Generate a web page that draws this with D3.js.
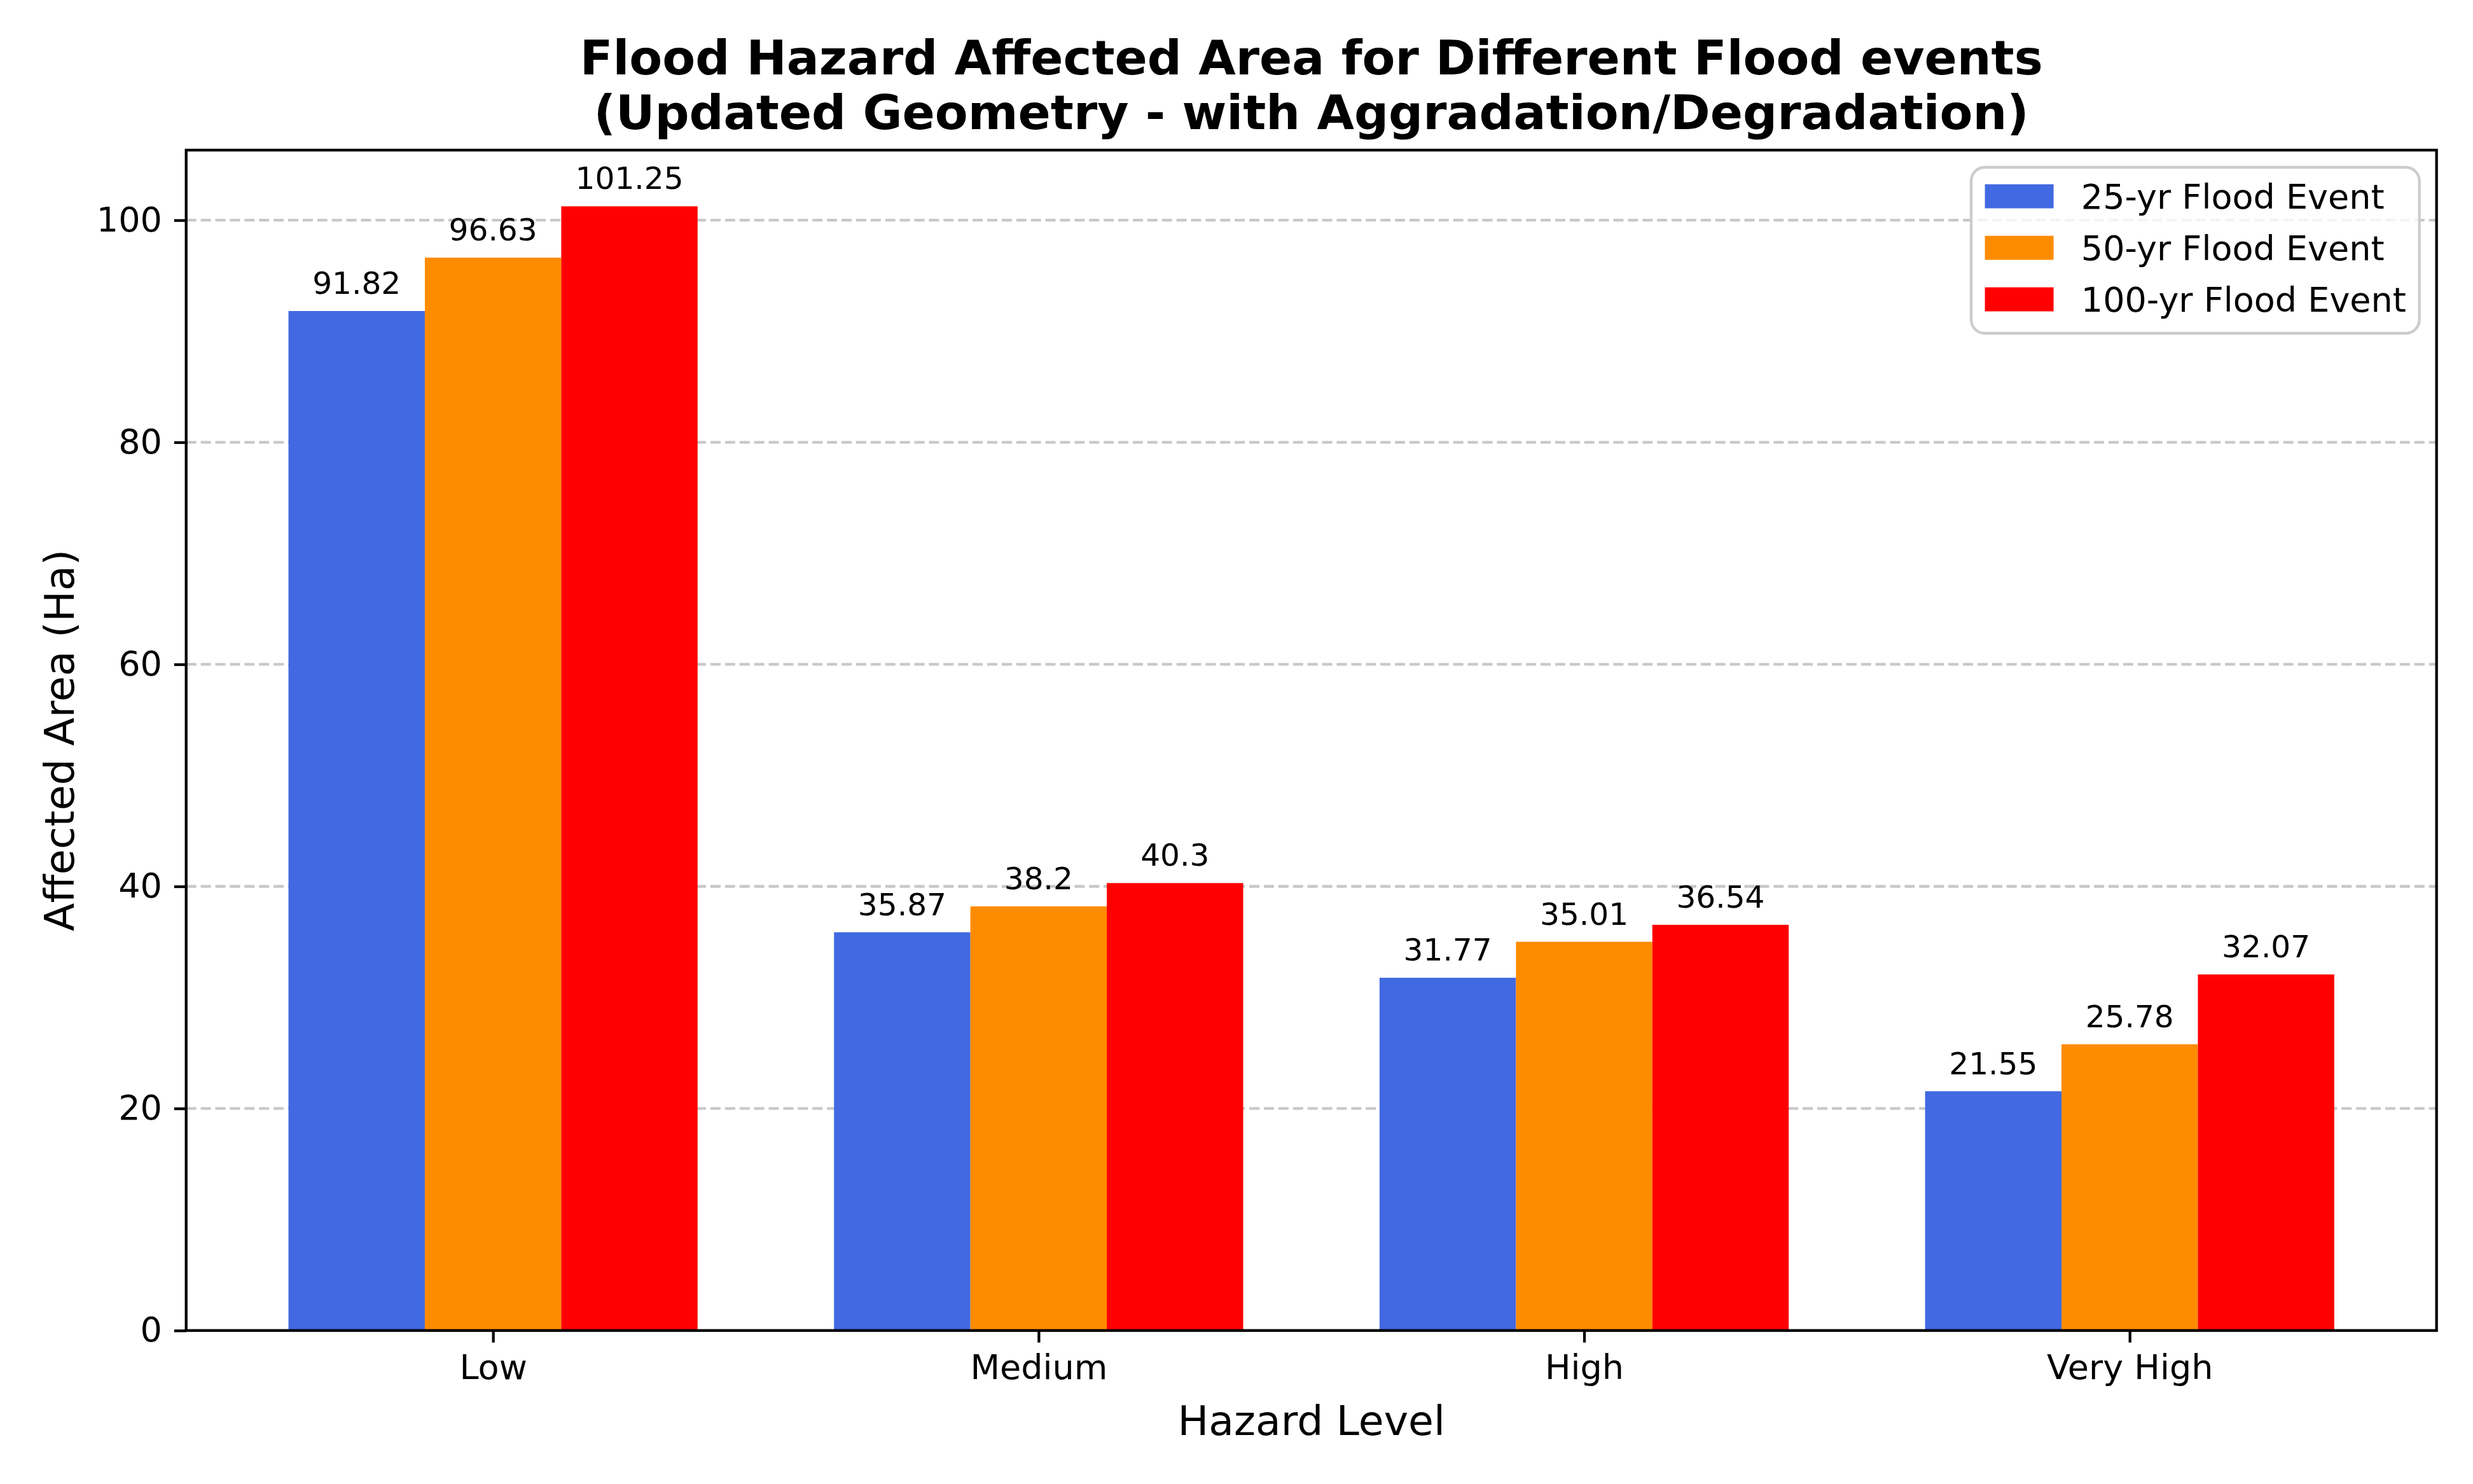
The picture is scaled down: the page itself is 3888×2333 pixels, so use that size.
<!DOCTYPE html>
<html>
<head>
<meta charset="utf-8">
<script src="https://cdn.jsdelivr.net/npm/d3@7"></script>
<style>
  body { margin: 0; background: #ffffff; }
  svg { display: block; font-family: "DejaVu Sans", sans-serif; }
</style>
</head>
<body>
<svg id="chart" width="3888" height="2333"></svg>
<script>
// data
var hazardLevels = ['Low', 'Medium', 'High', 'Very High']
var seriesNames = ['25-yr Flood Event', '50-yr Flood Event', '100-yr Flood Event']
var flood25 = [91.82, 35.87, 31.77, 21.55]
var flood50 = [96.63, 38.2, 35.01, 25.78]
var flood100 = [101.25, 40.3, 36.54, 32.07]
var seriesColors = ['#4169E1', '#FF8C00', '#FF0000']
var yTicks = [0, 20, 40, 60, 80, 100]

var seriesValues = [flood25, flood50, flood100]

var W = 3888, H = 2333
// plot area edges (window.top is reserved, so use other names)
var plotL = 292.7, plotR = 3830.7, plotT = 236, plotB = 2091.7
var barW = 0.25
var pt = 5.4 // px per point in the reference

var svg = d3.select('#chart')
svg.append('rect').attr('width', W).attr('height', H).attr('fill', '#ffffff')

var maxVal = d3.max(seriesValues, function(s){ return d3.max(s) })
var x = d3.scaleLinear()
    .domain([-0.375 - 0.1875, hazardLevels.length - 1 + 0.375 + 0.1875])
    .range([plotL, plotR])
var y = d3.scaleLinear()
    .domain([0, maxVal * 1.05])
    .range([plotB, plotT])

// grid
svg.append('g').selectAll('line.grid').data(yTicks.slice(1))
    .enter().append('line')
    .attr('class', 'grid')
    .attr('x1', plotL).attr('x2', plotR)
    .attr('y1', function(d){ return y(d) })
    .attr('y2', function(d){ return y(d) })
    .attr('stroke', '#c8c8c8')
    .attr('stroke-width', 0.8 * pt)
    .attr('stroke-dasharray', (2.96 * pt) + ',' + (1.28 * pt))

// bars
var rows = []
seriesValues.forEach(function(vals, s){
    vals.forEach(function(v, i){
        rows.push({s: s, i: i, v: v})
    })
})

svg.append('g').selectAll('rect.bar').data(rows)
    .enter().append('rect')
    .attr('class', 'bar')
    .attr('x', function(d){ return x(d.i + (d.s - 1) * barW - barW / 2) })
    .attr('width', function(d){ return x(barW) - x(0) })
    .attr('y', function(d){ return y(d.v) })
    .attr('height', function(d){ return y(0) - y(d.v) })
    .attr('fill', function(d){ return seriesColors[d.s] })

svg.append('g').selectAll('text.val').data(rows)
    .enter().append('text')
    .attr('class', 'val')
    .attr('x', function(d){ return x(d.i + (d.s - 1) * barW) })
    .attr('y', function(d){ return y(d.v) - 27 })
    .attr('text-anchor', 'middle')
    .attr('font-size', 9 * pt)
    .attr('fill', '#000')
    .text(function(d){ return d.v })

// axes
var yAxis = d3.axisLeft(y).tickValues(yTicks).tickSize(3.5 * pt).tickPadding(3.5 * pt)
    .tickFormat(d3.format('d'))
var gy = svg.append('g').attr('transform', 'translate(' + plotL + ',0)').call(yAxis)
gy.select('.domain').remove()
gy.selectAll('line').attr('stroke', '#000').attr('stroke-width', 0.8 * pt)
gy.selectAll('text').attr('font-size', 10 * pt).attr('font-family', 'DejaVu Sans').attr('fill', '#000')

var xAxis = d3.axisBottom(x).tickValues(d3.range(hazardLevels.length)).tickSize(3.5 * pt).tickPadding(3.5 * pt)
    .tickFormat(function(d){ return hazardLevels[d] })
var gx = svg.append('g').attr('transform', 'translate(0,' + plotB + ')').call(xAxis)
gx.select('.domain').remove()
gx.selectAll('line').attr('stroke', '#000').attr('stroke-width', 0.8 * pt)
gx.selectAll('text').attr('font-size', 10 * pt).attr('font-family', 'DejaVu Sans').attr('fill', '#000')

// frame
svg.append('rect')
    .attr('x', plotL).attr('y', plotT)
    .attr('width', plotR - plotL).attr('height', plotB - plotT)
    .attr('fill', 'none').attr('stroke', '#000').attr('stroke-width', 0.8 * pt)

// labels
svg.append('text')
    .attr('x', (plotL + plotR) / 2).attr('y', 2255.7)
    .attr('text-anchor', 'middle').attr('font-size', 12 * pt)
    .text('Hazard Level')

svg.append('text')
    .attr('transform', 'translate(116,' + ((plotT + plotB) / 2) + ') rotate(-90)')
    .attr('text-anchor', 'middle').attr('font-size', 12 * pt)
    .text('Affected Area (Ha)')

var title = svg.append('text')
    .attr('text-anchor', 'middle').attr('font-size', 14 * pt).attr('font-weight', 'bold')
title.append('tspan').attr('x', (plotL + plotR) / 2).attr('y', 117.3)
    .text('Flood Hazard Affected Area for Different Flood events')
title.append('tspan').attr('x', (plotL + plotR) / 2).attr('y', 203.3)
    .text('(Updated Geometry - with Aggradation/Degradation)')

// legend
var lg = svg.append('g')
lg.append('rect')
    .attr('x', 3099).attr('y', 263)
    .attr('width', 3803.7 - 3099).attr('height', 524 - 263)
    .attr('rx', 0.4 * 10 * pt)
    .attr('fill', '#ffffff').attr('fill-opacity', 0.8)
    .attr('stroke', '#cccccc').attr('stroke-width', 0.8 * pt)

var items = lg.selectAll('g.item').data(seriesNames)
    .enter().append('g')
    .attr('class', 'item')
    .attr('transform', function(d, i){ return 'translate(3120.6,' + (308.7 + i * 81) + ')' })
items.append('rect')
    .attr('x', 0).attr('y', -19)
    .attr('width', 2 * 10 * pt).attr('height', 0.7 * 10 * pt)
    .attr('fill', function(d, i){ return seriesColors[i] })
items.append('text')
    .attr('x', 2 * 10 * pt + 0.8 * 10 * pt)
    .attr('y', 19)
    .attr('font-size', 10 * pt)
    .text(function(d){ return d })
</script>
</body>
</html>
